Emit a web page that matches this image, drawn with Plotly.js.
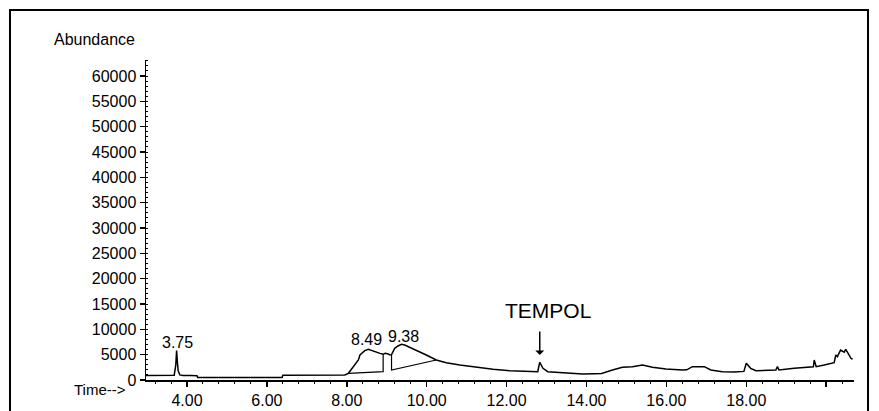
<!DOCTYPE html>
<html>
<head>
<meta charset="utf-8">
<script src="https://cdn.plot.ly/plotly-3.0.1.min.js"></script>
<style>html,body{margin:0;padding:0;background:#fff;}#chart{width:879px;height:411px;}</style>
</head>
<body>
<div id="chart"></div>
<script>
// Total ion chromatogram: time (min) vs abundance
const timeMin = [2.97, 3.2, 3.4, 3.6, 3.68, 3.72, 3.74, 3.76, 3.78, 3.82, 3.9, 4.1, 4.25, 4.27, 4.6, 5.0, 5.4, 5.8, 6.0, 6.1, 6.2, 6.38, 6.4, 7.0, 7.5, 7.95,
  8.04, 8.16, 8.29, 8.33, 8.45, 8.54, 8.66, 8.83, 8.91, 8.96, 9.04, 9.08, 9.12, 9.2, 9.28, 9.37, 9.45, 9.58, 9.74, 9.99, 10.24, 10.49, 10.83, 11.24, 11.66, 12.08, 12.4, 12.65, 12.78, 12.83, 12.91, 13.03,
  13.44, 13.9, 14.2, 14.38, 14.65, 14.9, 15.15, 15.4, 15.65, 15.99, 16.4, 16.51, 16.65, 16.95, 17.11, 17.4, 17.7, 17.94, 18.0, 18.11, 18.24, 18.5, 18.74, 18.78, 18.82, 19.2, 19.54, 19.68, 19.7, 19.75, 19.95, 20.2, 20.24, 20.28, 20.36, 20.45, 20.49, 20.55, 20.62, 20.66];
const abundance = [900, 950, 900, 900, 950, 3000, 5800, 3500, 1800, 1000, 900, 880, 850, 500, 480, 500, 470, 450, 500, 450, 500, 500, 950, 1000, 980, 1000,
  1320, 2630, 3950, 4935, 5790, 6060, 5790, 5260, 5070, 5260, 5130, 4935, 5000, 6250, 6710, 7040, 6910, 6450, 5790, 4935, 3950, 3420, 2960, 2500, 2100, 1840, 1750, 1640, 1640, 3500, 2300, 1640,
  1400, 1200, 1250, 1300, 1970, 2500, 2630, 2960, 2500, 2170, 1970, 2000, 2630, 2630, 1970, 1640, 1600, 1700, 3300, 2300, 1840, 1900, 1970, 2630, 1970, 2300, 2500, 2600, 3950, 2630, 2960, 3420, 4935, 4600, 5920, 5500, 6060, 5260, 4280, 4100];

// Integration baselines drawn by the data system
const integTime = [8.04, 8.91, 8.91, null, 9.12, 9.12, 10.24];
const integAbund = [1320, 1640, 5070, null, 4935, 1970, 3950];

// Axis ticks
const xTickVals = [4, 6, 8, 10, 12, 14, 16, 18, 20];
const xTickText = ["4.00", "6.00", "8.00", "10.00", "12.00", "14.00", "16.00", "18.00", ""];
const yTickVals = [0, 5000, 10000, 15000, 20000, 25000, 30000, 35000, 40000, 45000, 50000, 55000, 60000];

// Peak labels
const peakLabels = ["3.75", "8.49", "9.38"];
const peakLabelX = [3.75, 8.5, 9.41];
const peakLabelY = [7500, 7900, 8500];

const font = "Liberation Sans, Arial, sans-serif";

const traces = [
  {x: timeMin, y: abundance, mode: 'lines', line: {color: '#000', width: 1.5}, hoverinfo: 'skip', showlegend: false},
  {x: integTime, y: integAbund, mode: 'lines', line: {color: '#000', width: 1.2}, hoverinfo: 'skip', showlegend: false, connectgaps: false}
];

const annotations = peakLabels.map((t, i) => ({
  x: peakLabelX[i], y: peakLabelY[i], xref: 'x', yref: 'y', text: t, showarrow: false,
  xanchor: 'center', yanchor: 'middle', font: {family: font, size: 16, color: '#000'}
}));
annotations.push({x: 13.04, y: 13800, xref: 'x', yref: 'y', text: 'TEMPOL', showarrow: false,
  xanchor: 'center', yanchor: 'middle', font: {family: font, size: 21, color: '#000'}});
annotations.push({x: 12.83, y: 4935, xref: 'x', yref: 'y', text: '', showarrow: true,
  ax: 0, ay: -25, arrowhead: 1, arrowsize: 1, arrowwidth: 1.5, arrowcolor: '#000'});
annotations.push({x: -0.0127, y: 1.0656, xref: 'paper', yref: 'paper', text: 'Abundance', showarrow: false,
  xanchor: 'right', yanchor: 'middle', font: {family: font, size: 16, color: '#000'}});
annotations.push({x: -0.0254, y: -0.031, xref: 'paper', yref: 'paper', text: 'Time-->', showarrow: false,
  xanchor: 'right', yanchor: 'middle', font: {family: font, size: 15, color: '#000'}});

const layout = {
  width: 879, height: 411,
  margin: {l: 146, r: 25, t: 60, b: 31},
  paper_bgcolor: '#fff', plot_bgcolor: '#fff',
  font: {family: font, size: 16, color: '#000'},
  showlegend: false,
  xaxis: {
    range: [2.974, 20.696], showgrid: false, zeroline: false,
    showline: true, linecolor: '#000', linewidth: 1.5,
    tickmode: 'array', tickvals: xTickVals, ticktext: xTickText,
    ticks: 'outside', ticklen: 5, tickwidth: 1.5, tickcolor: '#000',
    tickfont: {family: font, size: 16, color: '#000'},
    minor: {tickmode: 'linear', tick0: 0, dtick: 0.4, ticks: 'outside', ticklen: 2, tickwidth: 1, tickcolor: '#000'}
  },
  yaxis: {
    range: [0, 63158], showgrid: false, zeroline: false,
    showline: true, linecolor: '#000', linewidth: 1.5,
    tickmode: 'array', tickvals: yTickVals, tickformat: 'd',
    ticks: 'outside', ticklen: 5, tickwidth: 1.5, tickcolor: '#000',
    tickfont: {family: font, size: 16, color: '#000'},
    minor: {tickmode: 'linear', tick0: 0, dtick: 1000, ticks: 'inside', ticklen: 2, tickwidth: 1, tickcolor: '#000'}
  },
  annotations: annotations,
  shapes: [{type: 'rect', xref: 'paper', yref: 'paper', x0: -0.1921, x1: 1.0198, y0: -0.14, y1: 1.15625,
    line: {color: '#000', width: 2}, fillcolor: 'rgba(0,0,0,0)'}]
};

Plotly.newPlot('chart', traces, layout, {displayModeBar: false, staticPlot: true});
</script>
</body>
</html>
